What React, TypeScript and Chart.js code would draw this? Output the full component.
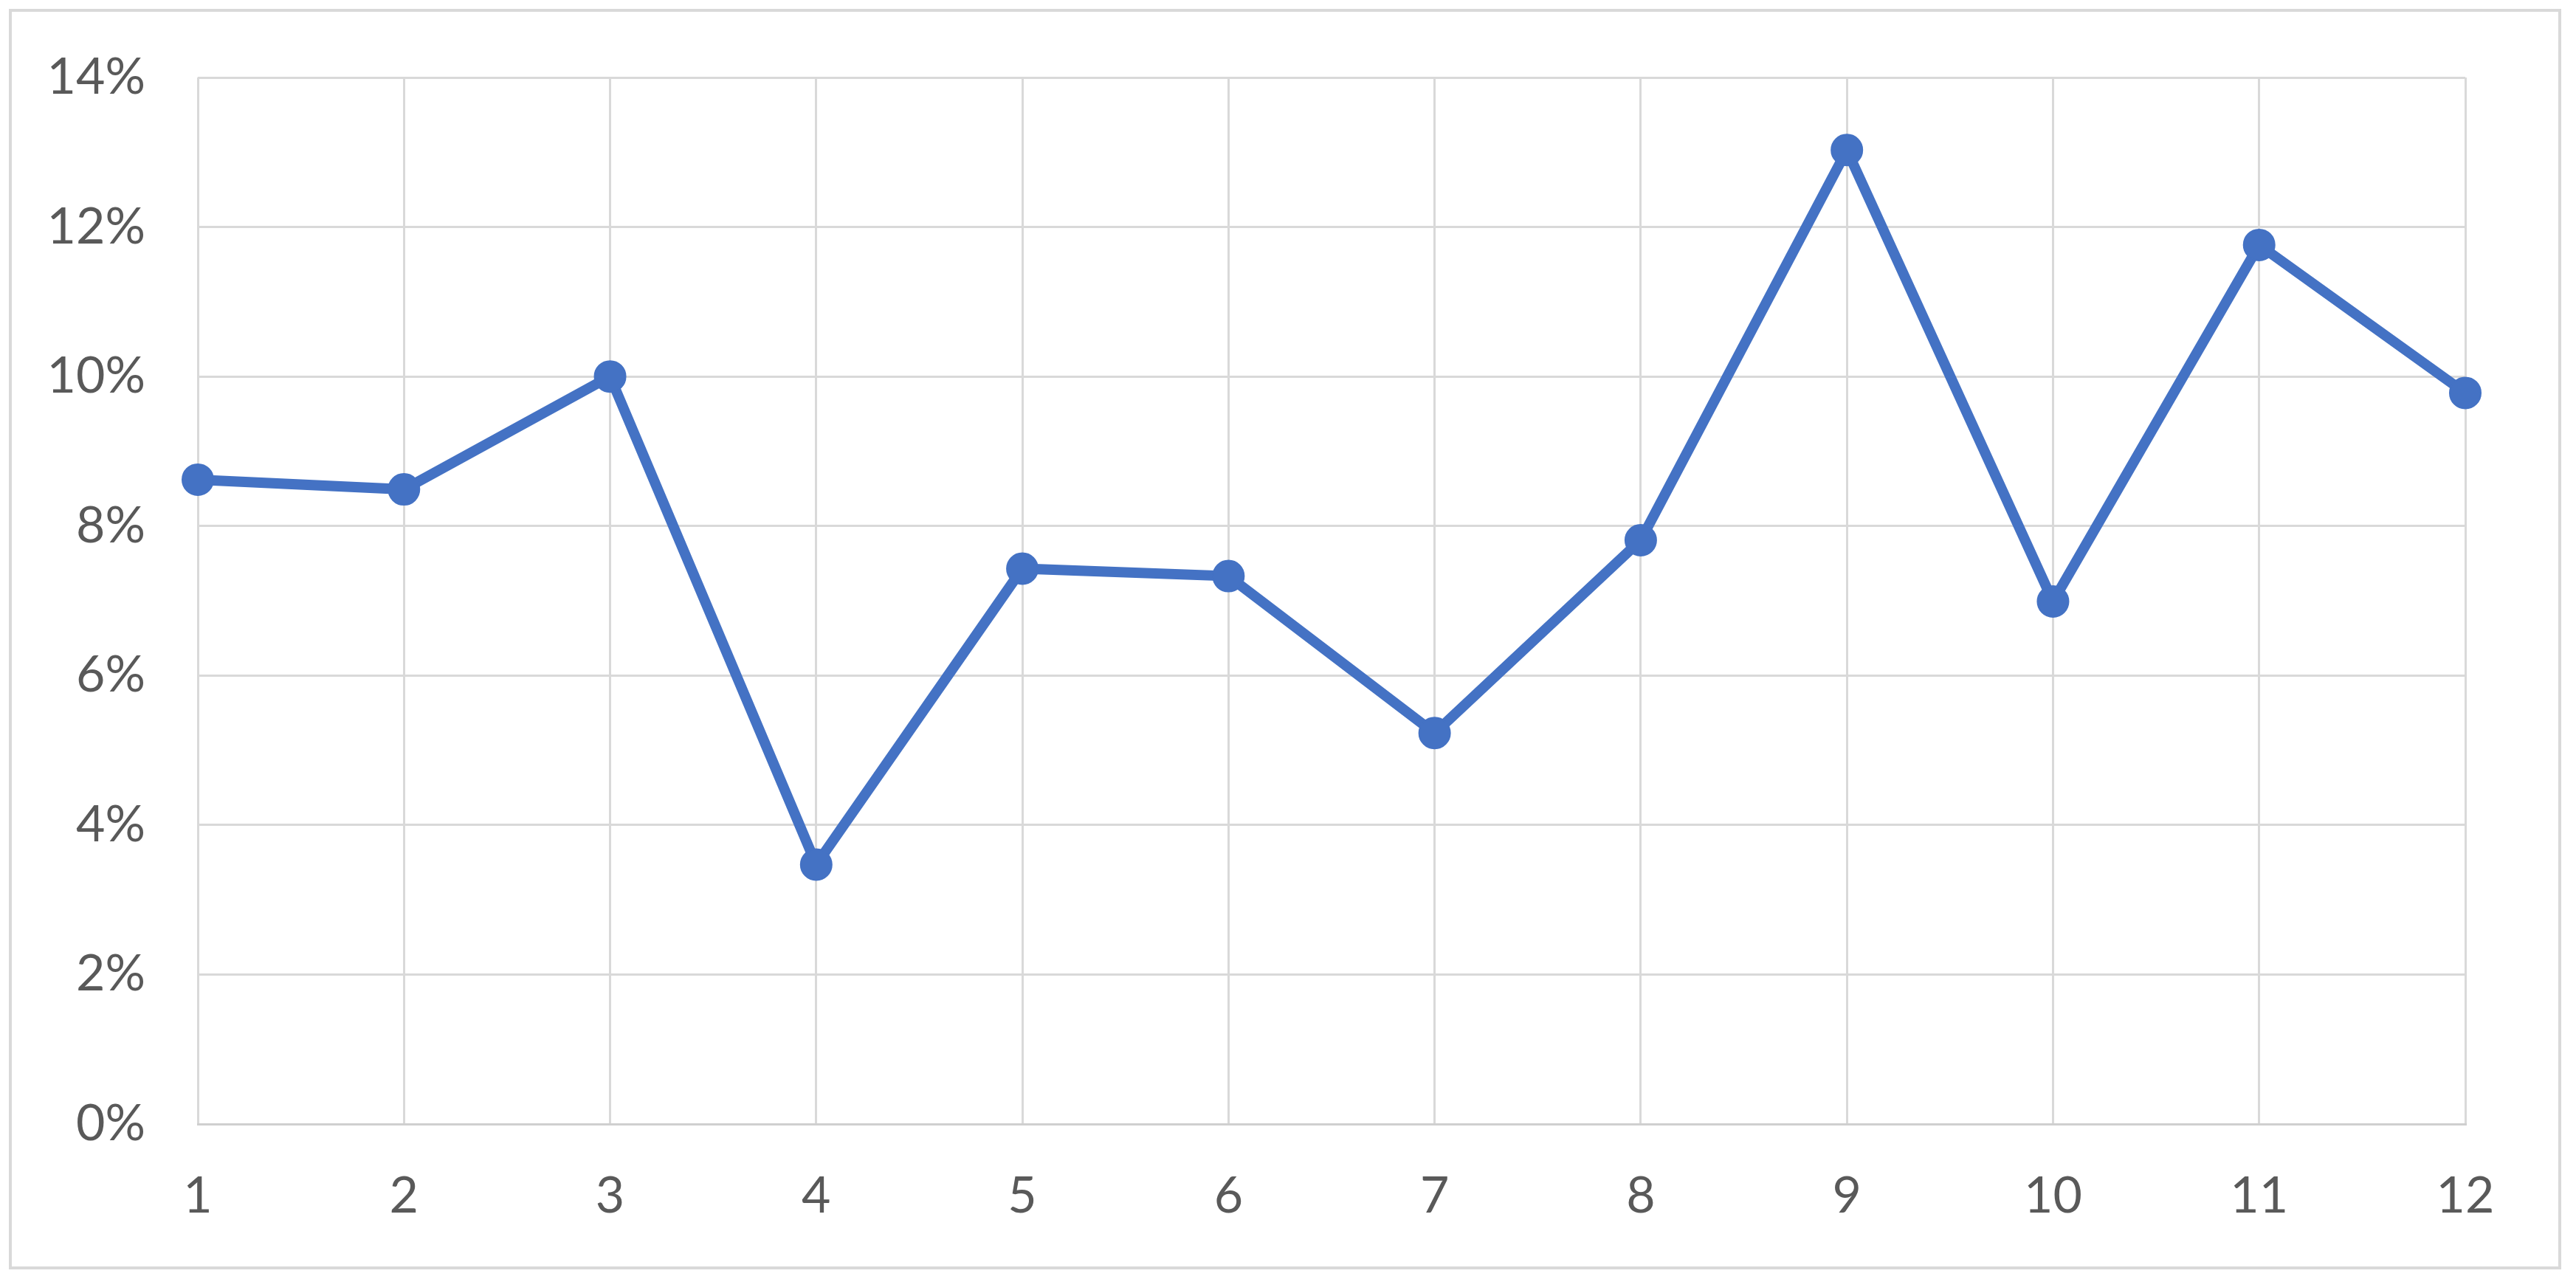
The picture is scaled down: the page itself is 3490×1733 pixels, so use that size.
import React, { useEffect, useRef } from "react";
import { Chart, registerables } from "chart.js";

Chart.register(...registerables);

const categories = ["1", "2", "3", "4", "5", "6", "7", "8", "9", "10", "11", "12"];
const seriesValues = [8.62, 8.49, 10.0, 3.47, 7.43, 7.33, 5.23, 7.81, 13.03, 6.99, 11.76, 9.78];
const yTickMax = 14;
const yTickStep = 2;

const LINE_COLOR = "#4472C4";
const GRID_COLOR = "#d9d9d9";
const TEXT_COLOR = "#595959";
const FONT_FAMILY = "Lato, 'Open Sans', sans-serif";

export default function App() {
  const canvasRef = useRef<HTMLCanvasElement | null>(null);

  useEffect(() => {
    document.body.style.margin = "0";
    const canvas = canvasRef.current;
    if (!canvas) return;
    const chart = new Chart(canvas, {
      type: "line",
      data: {
        labels: categories,
        datasets: [
          {
            data: seriesValues,
            borderColor: LINE_COLOR,
            backgroundColor: LINE_COLOR,
            borderWidth: 14,
            pointRadius: 21,
            pointBorderWidth: 2,
            pointBackgroundColor: LINE_COLOR,
            pointBorderColor: LINE_COLOR,
            tension: 0,
            fill: false,
            clip: false as any,
          },
        ],
      },
      options: {
        animation: false,
        responsive: false,
        devicePixelRatio: 1,
        layout: { padding: { top: 89, right: 126, bottom: 0, left: 0 } },
        plugins: {
          legend: { display: false },
          tooltip: { enabled: false },
        },
        scales: {
          x: {
            type: "category",
            offset: false,
            grid: {
              display: true,
              color: GRID_COLOR,
              lineWidth: 3,
              drawTicks: false,
              offset: false,
            },
            border: { display: true, color: "#cfcfcf", width: 3 },
            ticks: {
              color: TEXT_COLOR,
              font: { family: FONT_FAMILY, size: 68 },
              padding: 57,
              maxRotation: 0,
              autoSkip: false,
            },
            afterFit: (scale: any) => {
              scale.height = 193;
            },
          },
          y: {
            type: "linear",
            min: 0,
            max: yTickMax,
            grid: {
              color: GRID_COLOR,
              lineWidth: 3,
              drawTicks: false,
            },
            border: { display: false },
            ticks: {
              stepSize: yTickStep,
              color: TEXT_COLOR,
              font: { family: FONT_FAMILY, size: 68 },
              padding: 71,
              callback: (v: any) => `${v}%`,
            },
            afterFit: (scale: any) => {
              scale.width = 252;
              scale.paddingTop = 0;
              scale.paddingBottom = 0;
            },
          },
        },
      },
    });
    return () => chart.destroy();
  }, []);

  return (
    <div
      style={{
        position: "absolute",
        left: 12,
        top: 12,
        width: 3458,
        height: 1708,
        border: "4px solid #d9d9d9",
        boxSizing: "border-box",
        background: "#fff",
      }}
    >
      <canvas ref={canvasRef} width={3450} height={1700} style={{ display: "block" }} />
    </div>
  );
}
